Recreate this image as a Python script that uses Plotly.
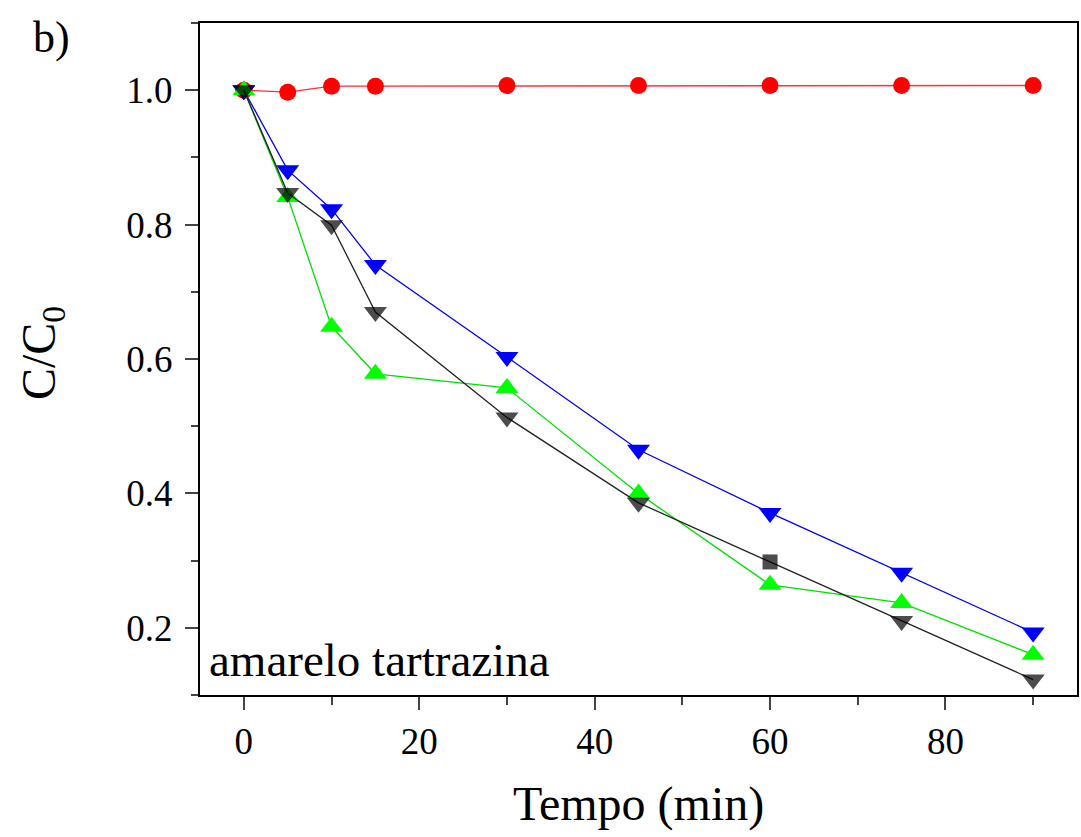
import plotly.graph_objects as go

tempo = [0, 5, 10, 15, 30, 45, 60, 75, 90]
red_vals = [1.000, 0.997, 1.006, 1.006, 1.007, 1.007, 1.007, 1.007, 1.007]
blue_vals = [1.000, 0.881, 0.823, 0.740, 0.603, 0.465, 0.371, 0.282, 0.193]
green_vals = [1.000, 0.841, 0.648, 0.578, 0.557, 0.400, 0.264, 0.237, 0.160]
black_vals = [1.000, 0.847, 0.799, 0.670, 0.513, 0.386, 0.298, 0.210, 0.123]
black_symbols = ["triangle-down"] * 6 + ["square"] + ["triangle-down"] * 2

x_ticks = [0, 20, 40, 60, 80]
y_ticks = [0.2, 0.4, 0.6, 0.8, 1.0]

FONT = "Liberation Serif"

W, H = 1081, 837
ML, MR, MT, MB = 200, 2, 23, 142
PW, PH = W - ML - MR, H - MT - MB

fig = go.Figure()
fig.add_trace(go.Scatter(x=tempo, y=red_vals, mode="lines+markers",
                         line=dict(color="#FF3030", width=1.3),
                         marker=dict(symbol="circle", size=17, color="#FF0000",
                                     line=dict(width=0))))
fig.add_trace(go.Scatter(x=tempo, y=blue_vals, mode="lines+markers",
                         line=dict(color="#0000FF", width=1.3),
                         marker=dict(symbol="triangle-down", size=20, color="#0000FF",
                                     line=dict(width=0))))
fig.add_trace(go.Scatter(x=tempo, y=green_vals, mode="lines+markers",
                         line=dict(color="#00E000", width=1.3),
                         marker=dict(symbol="triangle-up", size=20, color="#00FF00",
                                     line=dict(width=0))))
fig.add_trace(go.Scatter(x=tempo, y=black_vals, mode="lines+markers",
                         line=dict(color="#222222", width=1.3),
                         marker=dict(symbol=black_symbols, size=[20]*6 + [15] + [20]*2,
                                     color="#000000", line=dict(width=0))))

fig.update_layout(
    width=W, height=H,
    margin=dict(l=ML, r=MR, t=MT, b=MB),
    paper_bgcolor="white", plot_bgcolor="white",
    showlegend=False,
    font=dict(family=FONT, color="black"),
)
fig.update_xaxes(
    range=[-5, 95], tickvals=x_ticks, ticks="outside", ticklen=13, tickwidth=2,
    showline=True, linewidth=2, linecolor="black", mirror=True, showgrid=False,
    zeroline=False, tickfont=dict(size=37, family=FONT, color="black"),
    minor=dict(dtick=10, tick0=0, ticks="outside", ticklen=8, tickwidth=2, showgrid=False),
)
fig.update_yaxes(
    range=[0.1, 1.1], tickvals=y_ticks, tickformat=".1f", ticks="outside", ticklen=13,
    tickwidth=2, showline=True, linewidth=2, linecolor="black", mirror=True,
    showgrid=False, zeroline=False, tickfont=dict(size=37, family=FONT, color="black"),
    ticklabelstandoff=5,
    minor=dict(dtick=0.1, tick0=0.1, ticks="outside", ticklen=7, tickwidth=2, showgrid=False),
)
# axis titles
fig.add_annotation(x=0.5, y=0, xref="paper", yref="paper", xanchor="center",
                   yanchor="middle", yshift=-(804 - (MT + PH)), text="Tempo (min)",
                   showarrow=False, font=dict(size=48, family=FONT, color="black"))
fig.add_annotation(x=0, y=0.5, xref="paper", yref="paper", xanchor="center",
                   yanchor="middle", xshift=-(ML - 42), yshift=6, textangle=-90,
                   text="C/C<sub>0</sub>", showarrow=False,
                   font=dict(size=48, family=FONT, color="black"))
fig.add_annotation(x=0, y=35 / PH, xref="paper", yref="paper", xanchor="left",
                   yanchor="middle", xshift=7, text="amarelo tartrazina", showarrow=False,
                   font=dict(size=47, family=FONT, color="black"))
fig.add_annotation(x=(31 - ML) / PW, y=(MT + PH - 37) / PH, xref="paper", yref="paper",
                   xanchor="left", yanchor="middle", text="b)", showarrow=False,
                   font=dict(size=44, family=FONT, color="black"))

fig.write_html("out.html", config={"displayModeBar": False},
               post_script="document.body.style.margin='0';")
